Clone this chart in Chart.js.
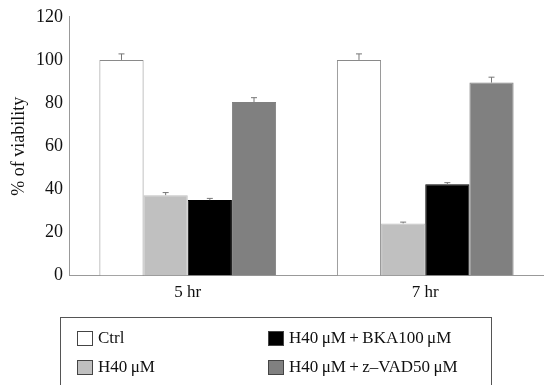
<!DOCTYPE html>
<html><head><meta charset="utf-8">
<script src="https://cdn.jsdelivr.net/npm/chart.js@4"></script>
<style>
html,body{margin:0;padding:0;background:#fff;}
#wrap{position:relative;width:544px;height:385px;}
#c{position:absolute;left:0;top:0;}
#legend{position:absolute;left:60px;top:317px;width:432px;height:80px;border:1px solid #555;box-sizing:border-box;font-family:"Liberation Serif","DejaVu Serif",serif;font-size:17px;color:#111;}
.item{position:absolute;display:flex;align-items:center;line-height:16px;white-space:nowrap;}
.sw{width:16px;height:15px;box-sizing:border-box;border:1px solid #444;margin-right:5px;}
</style></head>
<body><div id="wrap"><canvas id="c" width="544" height="385"></canvas><div id="legend"></div></div>
<script>
const categories = ["5 hr", "7 hr"];
const seriesNames = ["Ctrl", "H40\u2009\u03bcM", "H40\u2009\u03bcM\u2009+\u2009BKA100\u2009\u03bcM", "H40\u2009\u03bcM\u2009+\u2009z\u2013VAD50\u2009\u03bcM"];
const ctrl = [100, 100];
const h40 = [37.3, 24.2];
const h40bka = [35, 42.3];
const h40zvad = [80.5, 89.5];
const ctrlErr = [2.8, 2.8];
const h40Err = [1.2, 0.6];
const h40bkaErr = [0.8, 0.8];
const h40zvadErr = [2, 2.5];
const yTicks = [0, 20, 40, 60, 80, 100, 120];

const fills = ["#ffffff", "#c0c0c0", "#000000", "#808080"];
const borders = ["#8a8a8a", "#c0c0c0", "#000000", "#808080"];
const values = [ctrl, h40, h40bka, h40zvad];
const errs = [ctrlErr, h40Err, h40bkaErr, h40zvadErr];

const serif = '"Liberation Serif","DejaVu Serif",serif';

const errPlugin = {
  id: 'err',
  afterDatasetsDraw(chart) {
    const ctx = chart.ctx, y = chart.scales.y;
    chart.data.datasets.forEach((ds, i) => {
      const meta = chart.getDatasetMeta(i);
      meta.data.forEach((bar, j) => {
        const v = ds.data[j], e = errs[i][j];
        const top = y.getPixelForValue(v + e);
        const base = y.getPixelForValue(v);
        ctx.save();
        ctx.strokeStyle = '#777';
        ctx.lineWidth = 1;
        ctx.beginPath();
        ctx.moveTo(bar.x, base); ctx.lineTo(bar.x, top);
        ctx.moveTo(bar.x - 3, top); ctx.lineTo(bar.x + 3, top);
        ctx.stroke();
        ctx.restore();
      });
    });
  }
};

new Chart(document.getElementById('c'), {
  type: 'bar',
  data: {
    labels: categories,
    datasets: values.map((d, i) => ({
      label: seriesNames[i], data: d,
      backgroundColor: fills[i], borderColor: borders[i], borderWidth: 1,
      categoryPercentage: 0.744, barPercentage: 1
    }))
  },
  options: {
    responsive: false, animation: false,
    layout: { padding: { left: 8, right: 0, top: 6, bottom: 75 } },
    plugins: { legend: { display: false }, tooltip: { enabled: false } },
    scales: {
      x: {
        grid: { display: false, drawTicks: false },
        border: { color: '#999' },
        ticks: { color: '#111', font: { family: serif, size: 17 }, padding: 7 }
      },
      y: {
        min: 0, max: 120,
        afterBuildTicks(s) { s.ticks = yTicks.map(v => ({ value: v })); },
        afterFit(s) { s.width = 61; },
        grid: { display: false, drawTicks: false },
        border: { color: '#999' },
        ticks: { color: '#111', font: { family: serif, size: 18 }, padding: 6 },
        title: { display: true, text: '% of viability', color: '#111', font: { family: serif, size: 18 }, padding: 0 }
      }
    }
  },
  plugins: [errPlugin]
});

const leg = document.getElementById('legend');
const pos = [[16, 12], [16, 41], [207, 12], [207, 41]];
seriesNames.forEach((n, i) => {
  const d = document.createElement('div');
  d.className = 'item';
  d.style.left = pos[i][0] + 'px';
  d.style.top = pos[i][1] + 'px';
  d.innerHTML = '<span class="sw" style="background:' + fills[i] + '"></span><span>' + n + '</span>';
  leg.appendChild(d);
});
</script></body></html>
